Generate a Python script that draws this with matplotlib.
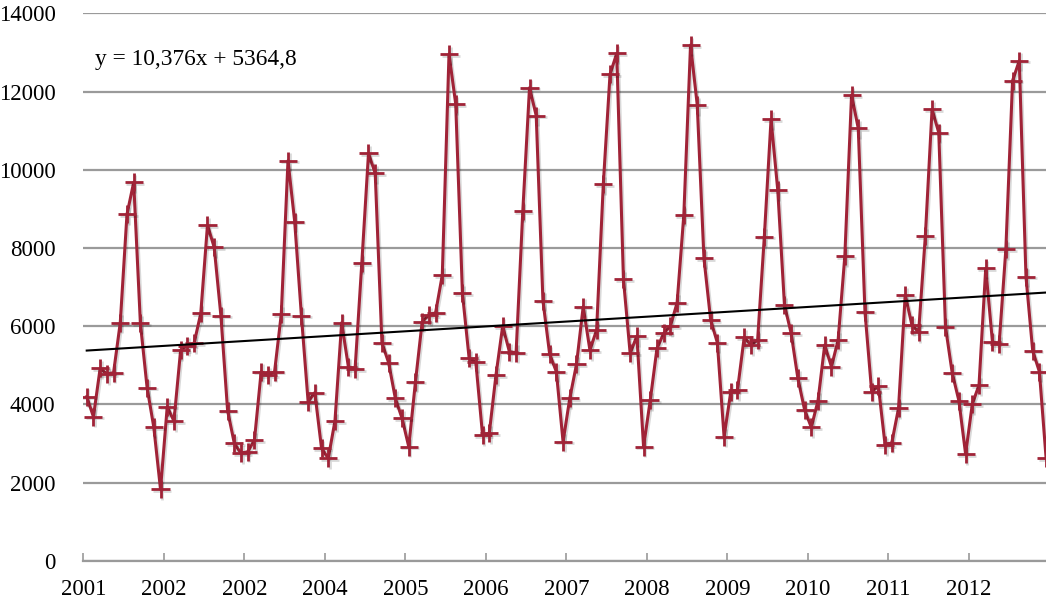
import matplotlib
matplotlib.use('Agg')
import matplotlib.pyplot as plt
import matplotlib.patheffects as pe
import numpy as np

# monthly values, 2001-2012
values = [
    4195, 3683, 4920, 4775, 4808, 6087, 8859, 9678, 6071, 4425, 3412, 1826,
    3939, 3573, 5389, 5500, 5560, 6327, 8586, 8015, 6266, 3836, 3002, 2747,
    2788, 3087, 4834, 4749, 4834, 6309, 10230, 8670, 6266, 4066, 4300, 2875,
    2619, 3573, 6087, 4962, 4903, 7606, 10419, 9908, 5575, 5064, 4153, 3642,
    2916, 4578, 6113, 6284, 6343, 7307, 12959, 11680, 6838, 5176, 5074, 3215,
    3257, 4749, 6003, 5345, 5320, 8944, 12097, 11381, 6650, 5286, 4834, 3043,
    4153, 5022, 6497, 5389, 5900, 9634, 12440, 12977, 7197, 5304, 5747, 2916,
    4110, 5432, 5816, 6003, 6598, 8841, 13189, 11655, 7734, 6156, 5575, 3171,
    4322, 4366, 5713, 5517, 5645, 8287, 11289, 9481, 6540, 5816, 4665, 3860,
    3412, 4092, 5517, 4962, 5645, 7793, 11910, 11059, 6368, 4322, 4468, 2959,
    3018, 3898, 6795, 6028, 5850, 8304, 11545, 10946, 5985, 4808, 4092, 2729,
    4008, 4494, 7478, 5601, 5542, 7964, 12276, 12788, 7263, 5371, 4834, 2619,
]
year_labels = ['2001', '2002', '2002', '2004', '2005', '2006',
               '2007', '2008', '2009', '2010', '2011', '2012']
slope = 10.376
intercept = 5364.8

plt.rcParams['font.family'] = ['Liberation Serif', 'DejaVu Serif']

fig = plt.figure(figsize=(10.46, 6.03), dpi=100)
ax = fig.add_axes([0.0797, 0.0701, 0.9204, 0.9078])

x = np.arange(len(values))
ax.plot(x, values, color='#A02337', lw=2.2, marker='+', markersize=13,
        markeredgewidth=2.0,
        path_effects=[pe.SimpleLineShadow(offset=(1.2, -1.2), alpha=0.15),
                      pe.Normal()])

trend = slope * (x + 1) + intercept
ax.plot(x, trend, color='black', lw=1.5)

ax.text(0.012, 0.915, 'y = 10,376x + 5364,8', transform=ax.transAxes,
        fontsize=16.8, va='center', ha='left')

ax.set_xlim(-0.5, 143.0)
ax.set_ylim(0, 14000)
ax.set_yticks(np.arange(0, 14001, 2000))
ax.set_xticks(np.arange(-0.5, 132, 12))
ax.set_xticklabels(year_labels)

ax.grid(axis='y', color='#9a9a9a', lw=1.6)
ax.set_axisbelow(True)
for s in ['left', 'right', 'top']:
    ax.spines[s].set_visible(False)
ax.spines['bottom'].set_color('#9a9a9a')
ax.spines['bottom'].set_linewidth(1.6)

ax.tick_params(axis='y', length=0, pad=20, labelsize=16.5)
ax.tick_params(axis='x', direction='in', length=6, width=1.2, color='#9a9a9a',
               pad=13, labelsize=16.5)

fig.savefig('out.png', dpi=100)
